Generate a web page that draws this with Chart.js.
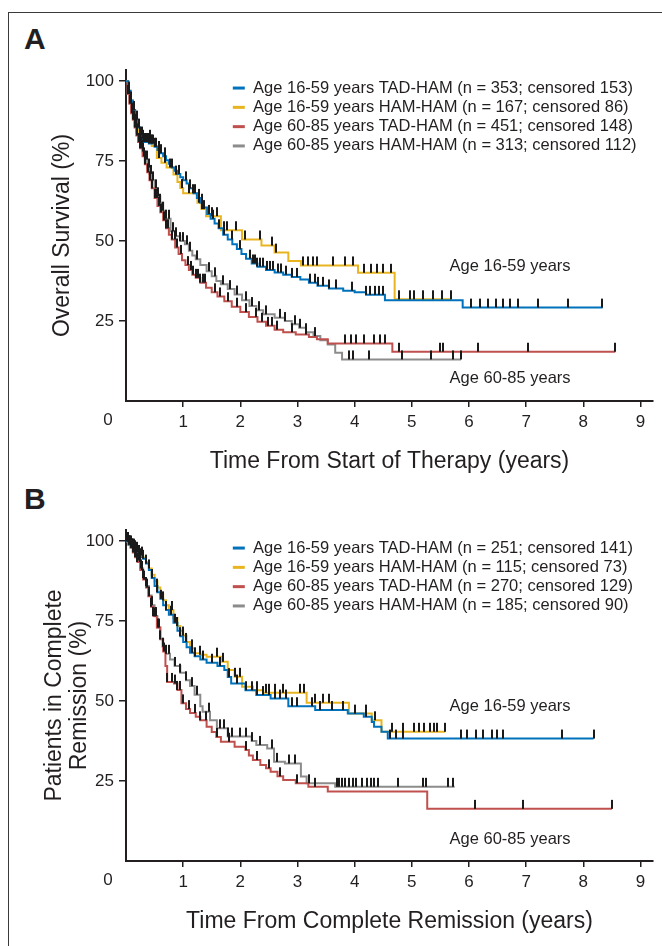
<!DOCTYPE html>
<html>
<head>
<meta charset="utf-8">
<script src="https://cdn.jsdelivr.net/npm/chart.js@4.4.1/dist/chart.umd.min.js"></script>
<style>
  html, body { margin: 0; padding: 0; background: #fff; }
  body { width: 662px; height: 946px; position: relative; overflow: hidden; }
  .frame { position: absolute; left: 8px; top: 12px; width: 700px; height: 1000px;
           border-left: 1.5px solid #3a3a3a; border-top: 1.5px solid #3a3a3a; }
  .tag { position: absolute; font: bold 30px "Liberation Sans", Arial, sans-serif; color: #231f20; }
  canvas { position: absolute; left: 0; }
</style>
</head>
<body>
<div class="frame"></div>
<div class="tag" style="left:24px; top:22px;">A</div>
<div class="tag" style="left:24px; top:482px;">B</div>
<canvas id="chartA" width="662" height="480" style="top:0"></canvas>
<canvas id="chartB" width="662" height="480" style="top:460px"></canvas>
<script>
const xTicks = [0, 1, 2, 3, 4, 5, 6, 7, 8, 9];
const yTicks = [25, 50, 75, 100];
const groupNotes = ["Age 16-59 years", "Age 60-85 years"];

const legendA = [
  "Age 16-59 years TAD-HAM (n = 353; censored 153)",
  "Age 16-59 years HAM-HAM (n = 167; censored 86)",
  "Age 60-85 years TAD-HAM (n = 451; censored 148)",
  "Age 60-85 years HAM-HAM (n = 313; censored 112)",
];
const legendB = [
  "Age 16-59 years TAD-HAM (n = 251; censored 141)",
  "Age 16-59 years HAM-HAM (n = 115; censored 73)",
  "Age 60-85 years TAD-HAM (n = 270; censored 129)",
  "Age 60-85 years HAM-HAM (n = 185; censored 90)",
];

// panel A - overall survival (years, %)
const aBlueT = [0, 0.04, 0.08, 0.12, 0.16, 0.2, 0.25, 0.3, 0.4, 0.5, 0.55, 0.6, 0.65, 0.7, 0.75, 0.8, 0.85, 0.9, 0.95, 1.0, 1.06, 1.12, 1.18, 1.24, 1.3, 1.36, 1.42, 1.48, 1.55, 1.62, 1.7, 1.78, 1.86, 1.94, 2.02, 2.1, 2.2, 2.3, 2.45, 2.6, 2.75, 2.9, 3.05, 3.2, 3.35, 3.55, 3.8, 4.0, 4.2, 4.53, 5.89, 8.34];
const aBlueS = [100, 97, 94, 91, 88, 85.5, 83, 81, 80.5, 79.5, 78.5, 77.5, 76.5, 75.3, 74.2, 73, 72, 71, 70, 69, 68, 66.5, 65, 63.5, 62, 60.5, 58.5, 57, 55.5, 54, 52, 50.5, 49, 47.5, 46, 44.5, 43, 42, 41, 40.2, 39.5, 38.8, 38, 37, 36, 35.2, 34.5, 34, 33.2, 31.5, 29.2, 29.2];
const aBlueC = [0.05, 0.09, 0.14, 0.19, 0.22, 0.25, 0.28, 0.31, 0.33, 0.35, 0.37, 0.39, 0.41, 0.43, 0.45, 0.47, 0.5, 0.53, 0.57, 0.62, 0.68, 0.8, 0.92, 1.05, 1.12, 1.2, 1.28, 1.33, 1.45, 1.52, 1.62, 1.72, 1.85, 2.0, 2.17, 2.22, 2.26, 2.3, 2.34, 2.4, 2.47, 2.52, 2.58, 2.66, 2.72, 2.8, 2.9, 3.0, 3.22, 3.3, 3.36, 3.45, 3.55, 3.68, 3.95, 4.2, 4.27, 4.35, 4.42, 4.5, 6.03, 6.19, 6.34, 6.47, 6.59, 6.72, 6.86, 7.2, 7.74, 8.33];

const aGoldT = [0, 0.04, 0.08, 0.12, 0.16, 0.22, 0.28, 0.45, 0.54, 0.62, 0.71, 0.83, 0.9, 0.95, 1.0, 1.25, 1.32, 1.4, 1.66, 2.03, 2.37, 2.6, 2.84, 3.06, 4.06, 4.7, 5.69];
const aGoldS = [100, 97, 94, 90, 87, 84, 82, 79.7, 76, 74.5, 73, 70.8, 68.5, 66.6, 65, 62, 60, 57.8, 53.4, 50.5, 48.6, 46.4, 43.8, 42.4, 40.1, 31.8, 31.8];
const aGoldC = [0.06, 0.16, 0.3, 0.42, 0.58, 0.68, 0.77, 0.88, 0.98, 1.1, 1.18, 1.27, 1.33, 1.37, 1.5, 1.6, 1.72, 1.76, 1.93, 2.08, 2.35, 2.55, 2.62, 3.09, 3.19, 3.28, 3.34, 3.63, 3.84, 3.98, 4.16, 4.28, 4.39, 4.5, 4.63, 4.77, 4.96, 5.03, 5.19, 5.37, 5.53, 5.69];

const aRedT = [0, 0.03, 0.06, 0.09, 0.12, 0.15, 0.18, 0.21, 0.25, 0.29, 0.33, 0.37, 0.41, 0.45, 0.5, 0.55, 0.6, 0.65, 0.7, 0.75, 0.8, 0.86, 0.92, 0.98, 1.04, 1.1, 1.16, 1.22, 1.3, 1.4, 1.5, 1.6, 1.72, 1.85, 2.0, 2.15, 2.3, 2.45, 2.6, 2.75, 2.97, 3.2, 3.34, 3.53, 4.66, 8.56];
const aRedS = [100, 96, 93, 90, 88, 85.5, 83, 81, 79, 76.5, 74, 71.5, 69, 66.5, 63.5, 61, 59, 56.5, 54, 52, 50.5, 48, 46, 44, 42.5, 41, 39.5, 38.5, 37, 35.4, 34, 32.7, 31.2, 29.5, 27.8, 26.3, 24.8, 23.5, 22.3, 21.5, 20.8, 20, 19.3, 18, 15.4, 15.4];
const aRedC = [0.04, 0.07, 0.1, 0.13, 0.16, 0.19, 0.22, 0.25, 0.28, 0.31, 0.34, 0.38, 0.42, 0.46, 0.5, 0.54, 0.58, 0.62, 0.66, 0.7, 0.74, 0.8, 0.85, 0.9, 0.96, 1.08, 1.14, 1.18, 1.22, 1.26, 1.3, 1.34, 1.38, 1.55, 1.65, 1.78, 1.95, 2.1, 2.28, 2.38, 2.48, 2.55, 2.65, 2.9, 3.15, 3.84, 3.94, 4.03, 4.16, 4.34, 4.44, 4.53, 4.78, 5.5, 5.54, 6.16, 7.03, 8.56];

const aGreyT = [0, 0.03, 0.06, 0.09, 0.12, 0.15, 0.18, 0.21, 0.25, 0.29, 0.33, 0.37, 0.41, 0.45, 0.5, 0.55, 0.6, 0.65, 0.7, 0.78, 0.86, 0.95, 1.03, 1.1, 1.16, 1.22, 1.3, 1.41, 1.5, 1.58, 1.66, 1.78, 1.9, 2.03, 2.16, 2.28, 2.4, 2.6, 2.78, 2.9, 3.03, 3.15, 3.28, 3.4, 3.53, 3.66, 3.78, 5.86];
const aGreyS = [100, 96, 93, 90.5, 88, 86, 84, 82, 80, 78, 75.5, 73, 71, 69, 66.5, 64, 62, 59.5, 57, 53.1, 51.5, 50, 49, 47, 45.5, 44.3, 42.5, 40.6, 39, 37.5, 36.5, 35, 33.3, 31.5, 29.7, 28.4, 27.1, 26, 25, 24, 22.9, 21.5, 20.3, 19, 17.7, 15.1, 13, 13];
const aGreyC = [0.05, 0.08, 0.11, 0.14, 0.17, 0.2, 0.24, 0.27, 0.3, 0.33, 0.36, 0.4, 0.44, 0.48, 0.52, 0.56, 0.6, 0.65, 0.7, 0.75, 0.82, 0.88, 0.95, 1.0, 1.06, 1.12, 1.25, 1.45, 1.55, 1.7, 1.82, 1.95, 2.1, 2.2, 2.32, 2.45, 2.7, 2.78, 2.95, 3.05, 3.15, 3.3, 3.9, 3.98, 4.25, 4.83, 5.33, 5.72, 5.86];

// panel B - remission duration (years, %)
const bBlueT = [0, 0.05, 0.1, 0.15, 0.2, 0.25, 0.3, 0.35, 0.4, 0.45, 0.5, 0.55, 0.6, 0.65, 0.7, 0.75, 0.83, 0.9, 0.95, 1.0, 1.06, 1.12, 1.2, 1.3, 1.41, 1.6, 1.72, 1.78, 1.84, 2.09, 2.28, 2.53, 2.84, 3.31, 3.88, 4.16, 4.3, 4.34, 4.47, 4.58, 8.18];
const bBlueS = [100, 99, 98, 97, 96, 95, 94.5, 93, 91, 88.5, 86, 84, 82, 80, 78.5, 77, 74.5, 72, 70.3, 68.5, 66.8, 65.1, 64, 63, 62, 61, 59.7, 57.5, 55.5, 53.4, 51.9, 50.8, 48.4, 47.2, 46.1, 45.1, 43.5, 42, 40.4, 38.3, 38.3];
const bBlueC = [0.02, 0.04, 0.06, 0.08, 0.1, 0.12, 0.14, 0.16, 0.19, 0.22, 0.25, 0.3, 0.35, 0.45, 0.55, 0.62, 0.7, 0.78, 0.85, 0.95, 1.05, 1.15, 1.2, 1.35, 1.5, 1.65, 1.8, 1.95, 2.1, 2.2, 2.3, 2.4, 2.5, 2.6, 2.7, 2.8, 2.9, 3.0, 3.25, 3.4, 3.6, 3.8, 4.0, 4.2, 4.61, 4.72, 4.84, 5.86, 5.97, 6.13, 6.25, 6.41, 6.49, 6.59, 7.63, 8.18];

const bGoldT = [0, 0.05, 0.1, 0.15, 0.2, 0.25, 0.3, 0.35, 0.4, 0.45, 0.5, 0.55, 0.6, 0.65, 0.7, 0.75, 0.83, 0.9, 0.95, 1.0, 1.06, 1.12, 1.2, 1.3, 1.41, 1.66, 1.78, 1.9, 2.03, 2.22, 2.4, 3.16, 3.9, 4.3, 4.47, 5.58];
const bGoldS = [100, 99, 98, 97.5, 96.5, 95.5, 94.8, 93.5, 91.5, 89.5, 87.5, 85.5, 83.5, 81.5, 80, 78.5, 76, 73.5, 72, 70.5, 68.5, 66.5, 65, 64.5, 63.9, 62.3, 59.7, 57.6, 54.5, 53.4, 52.6, 49.5, 46.1, 44, 40.4, 40.4];
const bGoldC = [0.03, 0.07, 0.11, 0.15, 0.2, 0.28, 0.4, 0.55, 0.65, 0.8, 0.9, 1.0, 1.15, 1.3, 1.6, 1.7, 1.9, 2.0, 2.3, 2.45, 2.5, 2.6, 2.75, 3.05, 3.12, 3.3, 3.45, 3.55, 4.2, 4.35, 4.66, 4.84, 5.03, 5.12, 5.22, 5.31, 5.38, 5.44, 5.58];

const bRedT = [0, 0.04, 0.08, 0.12, 0.16, 0.2, 0.25, 0.3, 0.35, 0.39, 0.44, 0.48, 0.54, 0.6, 0.65, 0.69, 0.72, 0.84, 0.9, 0.97, 1.05, 1.12, 1.22, 1.3, 1.41, 1.5, 1.58, 1.66, 1.9, 2.09, 2.15, 2.22, 2.35, 2.45, 2.53, 2.65, 2.75, 2.97, 3.19, 3.53, 5.27, 8.5];
const bRedS = [100, 99, 98, 96.5, 95, 93.5, 91, 88, 85.5, 82.8, 79.5, 76.6, 73, 69.3, 65.5, 61, 56, 55.5, 53.5, 49.3, 47.5, 46.3, 45.1, 44, 42, 40.3, 38.8, 37.3, 35.7, 34.7, 33, 31.6, 30, 29, 27.9, 26.5, 25.3, 24.3, 23.2, 21.7, 16.3, 16.3];
const bRedC = [0.02, 0.05, 0.08, 0.1, 0.13, 0.16, 0.2, 0.24, 0.28, 0.32, 0.36, 0.4, 0.44, 0.48, 0.52, 0.56, 0.6, 0.66, 0.72, 0.8, 0.85, 0.9, 0.95, 1.0, 1.1, 1.2, 1.3, 1.4, 1.6, 1.8, 2.1, 2.3, 2.5, 2.7, 3.0, 3.3, 6.11, 6.95, 8.5];

const bGreyT = [0, 0.04, 0.08, 0.12, 0.16, 0.2, 0.25, 0.3, 0.35, 0.4, 0.45, 0.5, 0.55, 0.6, 0.64, 0.7, 0.77, 0.85, 0.95, 1.05, 1.12, 1.2, 1.3, 1.34, 1.47, 1.59, 1.78, 2.2, 2.28, 2.47, 2.59, 2.78, 3.06, 3.16, 3.66, 5.75];
const bGreyS = [100, 99, 98, 96.8, 95.5, 94, 91.5, 88.5, 86, 83, 80, 76.5, 73, 69.5, 67, 64.8, 63, 61, 58.9, 56.5, 54.7, 52, 48.4, 46.7, 44, 41.5, 38.9, 37.5, 36.3, 35.2, 31, 30.5, 26.4, 24.3, 23.2, 23.2];
const bGreyC = [0.03, 0.06, 0.09, 0.12, 0.15, 0.18, 0.22, 0.26, 0.3, 0.35, 0.4, 0.45, 0.5, 0.58, 0.64, 0.7, 0.76, 0.85, 0.95, 1.05, 1.15, 1.25, 1.45, 1.65, 1.72, 1.78, 1.85, 2.0, 2.1, 2.2, 2.35, 2.55, 2.65, 2.85, 2.95, 3.2, 3.69, 3.73, 3.78, 3.84, 3.9, 3.97, 4.03, 4.13, 4.22, 4.28, 4.34, 4.41, 4.75, 5.19, 5.25, 5.64, 5.72];

const ink = "#231f20";
const lineColors = ["#0072bc", "#e8b520", "#c0504d", "#8c8c8c"];
const fontFamily = "'Liberation Sans', Arial, sans-serif";
Chart.defaults.font.family = fontFamily;
Chart.defaults.color = ink;

// censor mark: short upright stroke sitting on the curve
const tickMark = document.createElement("canvas");
tickMark.width = 2;
tickMark.height = 20;
const tickCtx = tickMark.getContext("2d");
tickCtx.fillStyle = "#1a1a1a";
tickCtx.fillRect(0, 1, 2, 9);

const survAt = (times, surv, t) => {
  let s = surv[0];
  times.forEach((tt, i) => {
    if (tt <= t) s = surv[i];
  });
  return s;
};

const buildSets = (curves, labels) => {
  const sets = [];
  curves.forEach((c, i) => {
    sets.push({
      label: labels[i],
      data: c.t.map((t, k) => ({ x: t, y: c.s[k] })),
      showLine: true,
      stepped: true,
      borderColor: lineColors[i],
      backgroundColor: lineColors[i],
      borderWidth: 2,
      pointRadius: 0,
      order: 1,
    });
  });
  curves.forEach((c) => {
    sets.push({
      label: "censored",
      data: c.c.map((t) => ({ x: t, y: survAt(c.t, c.s, t) })),
      showLine: false,
      pointStyle: tickMark,
      pointRadius: 5,
      order: 0,
    });
  });
  return sets;
};

const extras = {
  id: "extras",
  beforeDraw(chart) {
    // legend sits inside the plot, upper right
    chart.legend.left = 230;
    chart.legend.top = 77;
  },
  afterDraw(chart, args, opts) {
    const { ctx } = chart;
    const x = chart.scales.x;
    const y = chart.scales.y;
    ctx.save();
    ctx.fillStyle = ink;
    ctx.font = "17px " + fontFamily;
    ctx.textAlign = "center";
    ctx.textBaseline = "top";
    ctx.fillText("0", x.getPixelForValue(0) - 18, x.top + 11);
    ctx.font = "16.5px " + fontFamily;
    ctx.textAlign = "left";
    ctx.textBaseline = "middle";
    opts.notes.forEach((n, i) => {
      ctx.fillText(groupNotes[i], x.getPixelForValue(n[0]), y.getPixelForValue(n[1]));
    });
    ctx.restore();
  },
};

const createKM = (ctx, curves, labels, xTitle, yTitle, notes) => {
  return new Chart(ctx, {
    type: "scatter",
    data: { datasets: buildSets(curves, labels) },
    options: {
      responsive: false,
      animation: false,
      devicePixelRatio: 1,
      layout: { padding: { left: 0, right: 9, top: 70, bottom: 0 } },
      scales: {
        x: {
          type: "linear",
          min: 0,
          max: 9.22,
          afterBuildTicks: (s) => { s.ticks = xTicks.map((v) => ({ value: v })); },
          afterFit: (s) => { s.height = 79; },
          border: { display: true, color: ink, width: 2 },
          grid: {
            drawOnChartArea: false,
            tickLength: 6,
            lineWidth: 1.5,
            color: (c) => (c.tick && c.tick.value === 0 ? "rgba(0,0,0,0)" : ink),
          },
          ticks: {
            color: ink,
            font: { size: 17 },
            padding: 5,
            maxRotation: 0,
            autoSkip: false,
            callback: (v) => (v === 0 ? "" : v),
          },
          title: {
            display: true,
            text: xTitle,
            color: ink,
            font: { size: 23 },
            padding: { top: 0, bottom: 5 },
          },
        },
        y: {
          min: 0,
          max: 103.5,
          afterBuildTicks: (s) => { s.ticks = yTicks.map((v) => ({ value: v })); },
          afterFit: (s) => { s.width = 126; },
          border: { display: true, color: ink, width: 2 },
          grid: { drawOnChartArea: false, tickLength: 7, lineWidth: 1.5, color: ink },
          ticks: { color: ink, font: { size: 17 }, padding: 5 },
          title: {
            display: true,
            text: yTitle,
            color: ink,
            font: { size: 23, lineHeight: 1.1 },
            padding: { top: Array.isArray(yTitle) ? 42 : 50, bottom: 0 },
          },
        },
      },
      plugins: {
        tooltip: { enabled: false },
        extras: { notes: notes },
        legend: {
          position: "chartArea",
          align: "start",
          labels: {
            color: ink,
            font: { size: 16.5 },
            boxWidth: 12,
            boxHeight: 3,
            padding: 2.8,
            filter: (item) => item.text !== "censored",
            generateLabels: (chart) =>
              Chart.defaults.plugins.legend.labels.generateLabels(chart).map((l) => ({ ...l, lineWidth: 0 })),
          },
        },
      },
    },
    plugins: [extras],
  });
};

createKM(
  document.getElementById("chartA"),
  [
    { t: aBlueT, s: aBlueS, c: aBlueC },
    { t: aGoldT, s: aGoldS, c: aGoldC },
    { t: aRedT, s: aRedS, c: aRedC },
    { t: aGreyT, s: aGreyS, c: aGreyC },
  ],
  legendA,
  "Time From Start of Therapy (years)",
  "Overall Survival (%)",
  [[5.66, 42.2], [5.66, 6.9]]
);

createKM(
  document.getElementById("chartB"),
  [
    { t: bBlueT, s: bBlueS, c: bBlueC },
    { t: bGoldT, s: bGoldS, c: bGoldC },
    { t: bRedT, s: bRedS, c: bRedC },
    { t: bGreyT, s: bGreyS, c: bGreyC },
  ],
  legendB,
  "Time From Complete Remission (years)",
  ["Patients in Complete", "Remission (%)"],
  [[5.66, 48.4], [5.66, 6.6]]
);
</script>
</body>
</html>
